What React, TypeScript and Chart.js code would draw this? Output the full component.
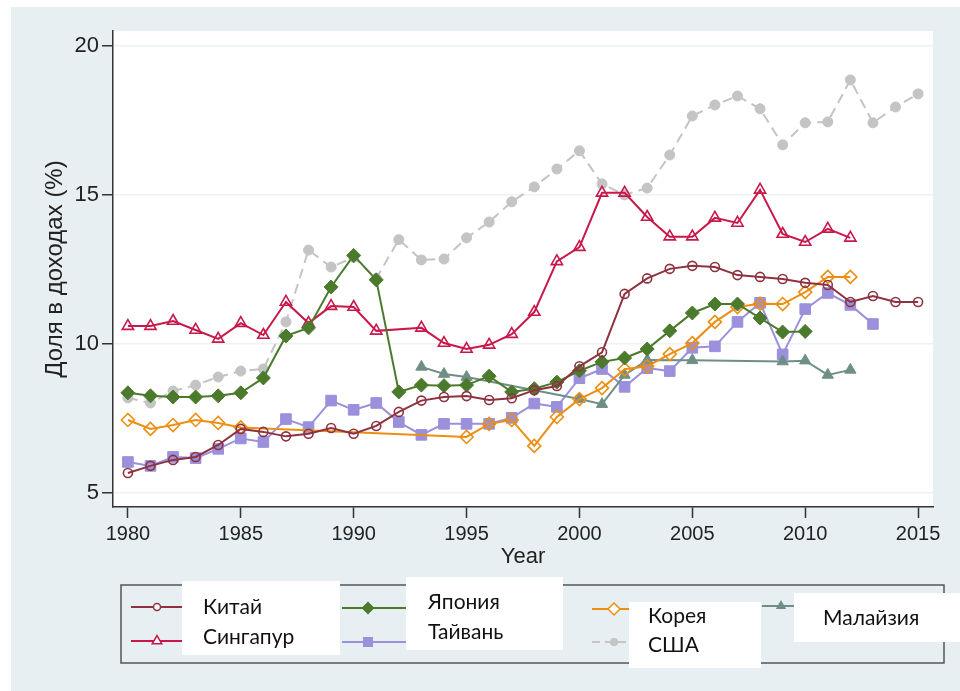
import React, { useEffect, useRef } from 'react';
import { Chart, registerables } from 'chart.js';

Chart.register(...registerables);

const years = [
  1980, 1981, 1982, 1983, 1984, 1985, 1986, 1987, 1988, 1989,
  1990, 1991, 1992, 1993, 1994, 1995, 1996, 1997, 1998, 1999,
  2000, 2001, 2002, 2003, 2004, 2005, 2006, 2007, 2008, 2009,
  2010, 2011, 2012, 2013, 2014, 2015,
];

const china = [
  5.67, 5.91, 6.11, 6.21, 6.61, 7.15, 7.05, 6.9, 6.99, 7.18,
  6.99, 7.25, 7.72, 8.1, 8.22, 8.25, 8.12, 8.18, 8.45, 8.59,
  9.25, 9.72, 11.68, 12.2, 12.52, 12.62, 12.58, 12.31, 12.25, 12.18,
  12.05, 11.98, 11.41, 11.61, 11.41, 11.41,
];

const singapore = [
  10.6, 10.6, 10.77, 10.47, 10.17, 10.7, 10.3, 11.41, 10.7, 11.27,
  11.24, 10.44, null, 10.54, 10.03, 9.83, 9.97, 10.33, 11.07, 12.77,
  13.25, 15.07, 15.07, 14.26, 13.6, 13.6, 14.23, 14.06, 15.17, 13.69,
  13.42, 13.86, 13.56, null, null, null,
];

const japan = [
  8.36, 8.26, 8.22, 8.22, 8.26, 8.36, 8.86, 10.27, 10.54, 11.91,
  12.97, 12.15, 8.39, 8.62, 8.6, 8.62, 8.92, 8.39, 8.5, 8.72,
  9.1, 9.4, 9.53, 9.83, 10.44, 11.04, 11.34, 11.34, 10.87, 10.4,
  10.42, null, null, null, null, null,
];

const korea = [
  7.45, 7.15, 7.28, 7.45, 7.35, 7.2, null, null, null, null,
  null, null, null, null, null, 6.88, 7.32, 7.45, 6.58, 7.55,
  8.15, 8.52, 9.15, 9.25, 9.66, 10.03, 10.74, 11.24, 11.35, 11.34,
  11.74, 12.25, 12.25, null, null, null,
];

const taiwan = [
  6.04, 5.91, 6.21, 6.17, 6.48, 6.83, 6.71, 7.48, 7.21, 8.1,
  7.79, 8.02, 7.38, 6.95, 7.32, 7.32, 7.32, 7.52, 8.0, 7.89,
  8.85, 9.16, 8.56, 9.19, 9.09, 9.87, 9.92, 10.74, 11.38, 9.65,
  11.17, 11.71, 11.31, 10.67, null, null,
];

const malaysia = [
  null, null, null, null, null, null, null, null, null, null,
  null, null, null, 9.23, 8.99, 8.89, null, null, null, null,
  8.15, 7.98, 8.96, 9.46, null, 9.45, null, null, null, 9.41,
  9.44, 8.96, 9.13, null, null, null,
];

const usa = [
  8.19, 8.02, 8.42, 8.62, 8.89, 9.09, 9.16, 10.74, 13.15, 12.58,
  12.9, 12.2, 13.5, 12.82, 12.85, 13.56, 14.09, 14.77, 15.27, 15.87,
  16.48, 15.37, 15.0, 15.23, 16.34, 17.65, 18.02, 18.32, 17.89, 16.68,
  17.42, 17.45, 18.86, 17.42, 17.95, 18.39,
];

const xTicks = [1980, 1985, 1990, 1995, 2000, 2005, 2010, 2015];
const yTicks = [5, 10, 15, 20];

const labelChina = 'Китай';
const labelSingapore = 'Сингапур';
const labelJapan = 'Япония';
const labelTaiwan = 'Тайвань';
const labelKorea = 'Корея';
const labelUsa = 'США';
const labelMalaysia = 'Малайзия';
const xTitle = 'Year';
const yTitle = 'Доля в доходах (%)';

const C_CHINA = '#8e3240';
const C_SING = '#c8184a';
const C_JAPAN = '#4c7a2c';
const C_KOREA = '#ec8e12';
const C_TAIWAN = '#9a90dc';
const C_MALAY = '#6f8f86';
const C_USA = '#c4c4c4';

const AXIS_FONT = "'Liberation Sans', Arial, sans-serif";
const LEGEND_FONT = "Lato, 'Open Sans', sans-serif";

function toPoints(vals: (number | null)[]) {
  const pts: { x: number; y: number }[] = [];
  vals.forEach((v, i) => {
    if (v !== null) pts.push({ x: years[i], y: v });
  });
  return pts;
}

function drawMarker(
  ctx: CanvasRenderingContext2D,
  kind: string,
  x: number,
  y: number,
  r: number,
  color: string,
  filled: boolean
) {
  ctx.save();
  ctx.beginPath();
  if (kind === 'circle') {
    ctx.arc(x, y, r, 0, Math.PI * 2);
  } else if (kind === 'triangle') {
    ctx.moveTo(x, y - r);
    ctx.lineTo(x + r * 0.866, y + r * 0.5);
    ctx.lineTo(x - r * 0.866, y + r * 0.5);
    ctx.closePath();
  } else if (kind === 'diamond') {
    ctx.moveTo(x, y - r);
    ctx.lineTo(x + r, y);
    ctx.lineTo(x, y + r);
    ctx.lineTo(x - r, y);
    ctx.closePath();
  } else {
    ctx.rect(x - r, y - r, 2 * r, 2 * r);
  }
  if (filled) {
    ctx.fillStyle = color;
    ctx.fill();
  } else {
    ctx.fillStyle = '#ffffff';
    ctx.fill();
    ctx.strokeStyle = color;
    ctx.lineWidth = 1.5;
    ctx.stroke();
  }
  ctx.restore();
}

const backgroundPlugin = {
  id: 'bgPanel',
  beforeDraw(chart: any) {
    const { ctx, chartArea } = chart;
    ctx.save();
    ctx.fillStyle = '#ffffff';
    ctx.fillRect(0, 0, chart.width, chart.height);
    ctx.fillStyle = '#e8eff2';
    ctx.fillRect(11, 7, chart.width - 11, chart.height - 7);
    ctx.fillStyle = '#ffffff';
    ctx.fillRect(chartArea.left, chartArea.top, chartArea.right - chartArea.left, chartArea.bottom - chartArea.top);
    ctx.restore();
  },
};

const legendPlugin = {
  id: 'customLegend',
  afterDraw(chart: any) {
    const ctx: CanvasRenderingContext2D = chart.ctx;
    ctx.save();
    ctx.strokeStyle = '#555555';
    ctx.lineWidth = 1.5;
    ctx.strokeRect(121, 585, 823, 78);

    ctx.fillStyle = '#ffffff';
    ctx.fillRect(182, 581, 158, 74);
    ctx.fillRect(406, 577, 157, 73);
    ctx.fillRect(629, 602, 132, 66);
    ctx.fillRect(794, 593, 166, 49);

    const samples = [
      { x0: 131, x1: 182, mx: 157, y: 607, color: C_CHINA, kind: 'circle', r: 3.5, filled: false, dash: false },
      { x0: 131, x1: 182, mx: 157, y: 641, color: C_SING, kind: 'triangle', r: 5.5, filled: false, dash: false },
      { x0: 342, x1: 406, mx: 368, y: 608, color: C_JAPAN, kind: 'diamond', r: 6.5, filled: true, dash: false },
      { x0: 342, x1: 406, mx: 368, y: 642, color: C_TAIWAN, kind: 'square', r: 5, filled: true, dash: false },
      { x0: 592, x1: 629, mx: 614, y: 609, color: C_KOREA, kind: 'diamond', r: 6, filled: false, dash: false },
      { x0: 592, x1: 629, mx: 614, y: 642, color: C_USA, kind: 'circle', r: 4, filled: true, dash: true },
      { x0: 762, x1: 794, mx: 781, y: 606, color: C_MALAY, kind: 'triangle', r: 6, filled: true, dash: false },
    ];
    samples.forEach((s) => {
      ctx.save();
      ctx.strokeStyle = s.color;
      ctx.lineWidth = 2;
      if (s.dash) ctx.setLineDash([8, 5]);
      ctx.beginPath();
      ctx.moveTo(s.x0, s.y);
      ctx.lineTo(s.x1, s.y);
      ctx.stroke();
      ctx.restore();
      drawMarker(ctx, s.kind, s.mx, s.y, s.r, s.color, s.filled);
    });

    ctx.fillStyle = '#111111';
    ctx.font = `21px ${LEGEND_FONT}`;
    ctx.textBaseline = 'middle';
    ctx.textAlign = 'left';
    ctx.fillText(labelChina, 203, 607);
    ctx.fillText(labelSingapore, 203, 637);
    ctx.fillText(labelJapan, 428, 602);
    ctx.fillText(labelTaiwan, 428, 632);
    ctx.fillText(labelKorea, 648, 616);
    ctx.fillText(labelUsa, 648, 645);
    ctx.fillText(labelMalaysia, 823, 618);
    ctx.restore();
  },
};

export default function App() {
  const canvasRef = useRef<HTMLCanvasElement | null>(null);

  useEffect(() => {
    if (!canvasRef.current) return;
    const ds = (
      label: string,
      vals: (number | null)[],
      color: string,
      style: string,
      radius: number,
      filled: boolean,
      dashed = false
    ) => ({
      label,
      data: toPoints(vals),
      borderColor: color,
      backgroundColor: color,
      borderWidth: 2,
      borderDash: dashed ? [10, 6] : [],
      pointStyle: style,
      pointRadius: radius,
      pointBorderWidth: filled ? 1 : 1.6,
      pointBorderColor: color,
      pointBackgroundColor: filled ? color : 'rgba(0,0,0,0)',
      tension: 0,
      fill: false,
    });

    const chart = new Chart(canvasRef.current, {
      type: 'line',
      data: {
        datasets: [
          ds(labelChina, china, C_CHINA, 'circle', 4.5, false),
          ds(labelJapan, japan, C_JAPAN, 'rectRot', 7, true),
          ds(labelKorea, korea, C_KOREA, 'rectRot', 6.5, false),
          ds(labelMalaysia, malaysia, C_MALAY, 'triangle', 6.5, true),
          ds(labelSingapore, singapore, C_SING, 'triangle', 6.5, false),
          ds(labelTaiwan, taiwan, C_TAIWAN, 'rect', 7.5, true),
          ds(labelUsa, usa, C_USA, 'circle', 5, true, true),
        ] as any,
      },
      options: {
        responsive: false,
        animation: false,
        devicePixelRatio: 1,
        layout: { padding: { left: 0, top: 31, right: 27, bottom: 121 } },
        plugins: {
          legend: { display: false },
          tooltip: { enabled: false },
        },
        scales: {
          x: {
            type: 'linear',
            min: 1979.34,
            max: 2015.66,
            afterBuildTicks: (s: any) => {
              s.ticks = xTicks.map((v) => ({ value: v }));
            },
            afterFit: (s: any) => {
              s.height = 63;
            },
            grid: {
              drawOnChartArea: false,
              drawTicks: true,
              tickLength: 11,
              tickColor: '#333333',
              tickWidth: 1.5,
              color: '#333333',
            },
            border: { display: true, color: '#333333', width: 1.5 },
            ticks: {
              font: { family: AXIS_FONT, size: 20 },
              color: '#222222',
              padding: 4,
              maxRotation: 0,
              autoSkip: false,
              callback: (v: any) => String(v),
            },
            title: {
              display: true,
              text: xTitle,
              font: { family: AXIS_FONT, size: 22 },
              color: '#222222',
              padding: 0,
            },
          },
          y: {
            type: 'linear',
            min: 4.53,
            max: 20.5,
            afterBuildTicks: (s: any) => {
              s.ticks = yTicks.map((v) => ({ value: v }));
            },
            afterFit: (s: any) => {
              s.width = 113;
            },
            grid: {
              color: '#edf2f4',
              lineWidth: 1.5,
              drawTicks: true,
              tickLength: 11,
              tickColor: '#333333',
              tickWidth: 1.5,
            },
            border: { display: true, color: '#333333', width: 1.5 },
            ticks: {
              font: { family: AXIS_FONT, size: 22 },
              color: '#222222',
              padding: 3,
              autoSkip: false,
              callback: (v: any) => String(v),
            },
            title: {
              display: true,
              text: yTitle,
              font: { family: AXIS_FONT, size: 24 },
              color: '#222222',
              padding: { top: 41, bottom: 0 },
            },
          },
        },
      } as any,
      plugins: [backgroundPlugin, legendPlugin],
    });
    return () => chart.destroy();
  }, []);

  return (
    <div style={{ position: 'absolute', left: 0, top: 0, width: 960, height: 691 }}>
      <canvas ref={canvasRef} width={960} height={691} style={{ display: 'block' }} />
    </div>
  );
}
